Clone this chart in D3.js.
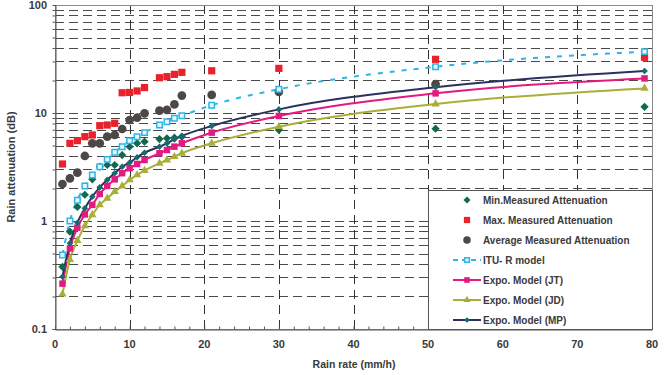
<!DOCTYPE html>
<html>
<head>
<meta charset="utf-8">
<script src="https://cdn.jsdelivr.net/npm/d3@7"></script>
<style>
body { margin: 0; background: #fff; }
text { font-family: "Liberation Sans", Arial, sans-serif; font-weight: bold; fill: #3a3a3a; }
</style>
</head>
<body>
<script>

// rain rates (mm/h) where the points sit
const rain = [1, 2, 3, 4, 5, 6, 7, 8, 9, 10, 11, 12, 14, 15, 16, 17, 21, 30, 51, 79];

// attenuation (dB), null where no mark shows
const minAtt = [0.377, 0.796, 1.35, 1.75, 2.43, 3.18, 3.30, 3.30, 4.08, 4.87, 5.24, 5.42, 5.74, 5.83, 5.91, 6.04, null, 6.96, 7.16, 11.4];
const maxAtt = [3.37, 5.24, 5.55, 6.04, 6.26, 7.63, 7.74, 8.03, 15.4, 15.5, 16.0, 17.2, 21.2, 21.7, 22.8, 23.8, 24.6, 25.9, 31.4, 32.8];
const avgAtt = [2.20, 2.48, 2.80, 4.0, 5.24, 5.24, 6.04, 6.26, 7.11, 8.61, 9.04, 9.93, 10.5, 10.7, 12.0, 14.5, 14.7, 15.7, 18.5, null];
const ituR = [0.484, 1.0, 1.56, 2.11, 2.67, 3.18, 3.72, 4.33, 4.87, 5.54, 6.04, 6.58, 7.74, 8.31, 8.93, 9.44, 11.8, 16.6, 26.8, 37.0];
const expoJT = [0.263, 0.558, 0.867, 1.15, 1.41, 1.78, 2.11, 2.43, 2.77, 3.08, 3.37, 3.67, 4.24, 4.54, 4.88, 5.24, 6.58, 9.38, 15.2, 20.9];
const expoJD = [0.21, 0.44, 0.66, 0.90, 1.14, 1.41, 1.62, 1.87, 2.11, 2.40, 2.67, 2.93, 3.42, 3.67, 3.94, 4.24, 5.24, 7.47, 12.1, 16.9];
const expoMP = [0.305, 0.622, 0.964, 1.31, 1.68, 2.05, 2.40, 2.77, 3.18, 3.47, 3.89, 4.29, 4.87, 5.24, 5.70, 6.12, 7.58, 10.8, 17.3, 24.5];

const xTicks = [0, 10, 20, 30, 40, 50, 60, 70, 80];
const yTicks = [0.1, 1, 10, 100];

const options = {
    width: 669,
    height: 375,
    left: 55,
    right: 652,
    top: 5,
    bottom: 329
}

const x = d3.scaleLinear().domain([0, 80]).range([options.left, options.right]);
const y = d3.scaleLog().domain([0.1, 100]).range([options.bottom, options.top]);

let svg = d3.select("body")
    .append("svg")
    .attr("width", options.width)
    .attr("height", options.height)

// minor log values for the dashed grid
let gridVals = [];
[0.1, 1, 10].forEach(d => {
    for (let k = 1; k <= 9; k++) gridVals.push(d * k);
});
gridVals = gridVals.filter(v => v > 0.1 + 1e-9);

let grid = svg.append("g")

grid.selectAll(".hgrid")
    .data(gridVals)
    .enter()
    .append("line")
    .attr("x1", options.left)
    .attr("x2", options.right)
    .attr("y1", d => Math.round(y(d)) + 0.5)
    .attr("y2", d => Math.round(y(d)) + 0.5)
    .style("stroke", "#4a4a4a")
    .style("stroke-dasharray", "9,5")

grid.selectAll(".vgrid")
    .data(xTicks.slice(1, -1))
    .enter()
    .append("line")
    .attr("x1", d => Math.round(x(d)) + 0.5)
    .attr("x2", d => Math.round(x(d)) + 0.5)
    .attr("y1", options.top)
    .attr("y2", options.bottom)
    .style("stroke", "#333")
    .style("stroke-dasharray", "9,6")

// frame
svg.append("rect")
    .attr("x", options.left + 0.5)
    .attr("y", options.top + 0.5)
    .attr("width", options.right - options.left)
    .attr("height", options.bottom - options.top)
    .style("fill", "none")
    .style("stroke", "#8a8a8a")

// axes
let xAxis = svg.append("g")
    .attr("transform", `translate(0,${options.bottom + 0.5})`)
    .call(d3.axisBottom(x).tickValues(d3.range(0, 81, 2)).tickSize(-3).tickFormat(""))
xAxis.select(".domain").style("stroke", "#555")
xAxis.selectAll(".tick line").style("stroke", "#555")

svg.append("g")
    .selectAll(".xlab")
    .data(xTicks)
    .enter()
    .append("text")
    .attr("x", d => x(d))
    .attr("y", 348)
    .attr("text-anchor", "middle")
    .style("font-size", "11px")
    .text(d => d)

let yAxis = svg.append("g")
    .attr("transform", `translate(${options.left + 0.5},0)`)
    .call(d3.axisLeft(y).tickValues(gridVals.concat([0.1])).tickSize(3).tickFormat(""))
yAxis.select(".domain").style("stroke", "#555")
yAxis.selectAll(".tick line").style("stroke", "#555")

svg.append("g")
    .selectAll(".ylab")
    .data(yTicks)
    .enter()
    .append("text")
    .attr("x", 47)
    .attr("y", d => y(d) + 4)
    .attr("text-anchor", "end")
    .style("font-size", "11px")
    .text(d => d)

svg.append("text")
    .attr("x", 354)
    .attr("y", 368)
    .attr("text-anchor", "middle")
    .style("font-size", "10.5px")
    .text("Rain rate (mm/h)")

svg.append("text")
    .attr("transform", `translate(15,167) rotate(-90)`)
    .attr("text-anchor", "middle")
    .style("font-size", "11px")
    .text("Rain attenuation (dB)")

const pts = arr => rain.map((r, i) => [r, arr[i]]).filter(d => d[1] != null);

const lineGen = d3.line()
    .x(d => x(d[0]))
    .y(d => y(d[1]))
    .curve(d3.curveMonotoneX);

// square turned 45 degrees, as wide as it is tall
const rhomb = {
    draw(ctx, size) {
        const r = Math.sqrt(size / 2);
        ctx.moveTo(0, -r);
        ctx.lineTo(r, 0);
        ctx.lineTo(0, r);
        ctx.lineTo(-r, 0);
        ctx.closePath();
    }
};

let plot = svg.append("g")

const series = [
    { name: "Min.Measured Attenuation", data: minAtt, color: "#13694e", sym: rhomb, size: 34, line: false },
    { name: "Max. Measured Attenuation", data: maxAtt, color: "#e8212b", sym: d3.symbolSquare, size: 52, line: false },
    { name: "Average Measured Attenuation", data: avgAtt, color: "#4d4746", sym: d3.symbolCircle, size: 60, line: false },
    { name: "ITU- R model", data: ituR, color: "#2cb5e6", sym: d3.symbolSquare, size: 30, line: true, dash: "5,7", open: true },
    { name: "Expo. Model (JT)", data: expoJT, color: "#e5197f", sym: d3.symbolSquare, size: 42, line: true },
    { name: "Expo. Model (JD)", data: expoJD, color: "#a9ae38", sym: d3.symbolTriangle, size: 30, line: true },
    { name: "Expo. Model (MP)", data: expoMP, color: "#2c3060", sym: rhomb, size: 22, line: true, mark: "#17696f" }
];

// lines first, then markers on top
series.filter(s => s.line).forEach(s => {
    plot.append("path")
        .attr("d", lineGen(pts(s.data)))
        .style("fill", "none")
        .style("stroke", s.color)
        .style("stroke-width", 2)
        .style("stroke-dasharray", s.dash || null)
})

series.forEach(s => {
    plot.selectAll(null)
        .data(pts(s.data))
        .enter()
        .append("path")
        .attr("transform", d => `translate(${x(d[0])},${y(d[1])})`)
        .attr("d", d3.symbol().type(s.sym).size(s.size))
        .style("fill", s.open ? "#e9f7fd" : (s.mark || s.color))
        .style("stroke", s.open ? s.color : "none")
        .style("stroke-width", 1.5)
})

// legend
let legend = svg.append("g")

legend.append("rect")
    .attr("x", 428.5)
    .attr("y", 190.5)
    .attr("width", options.right - 428)
    .attr("height", options.bottom - 190)
    .style("fill", "#fff")
    .style("stroke", "#555")

let entry = legend.selectAll(".entry")
    .data(series)
    .enter()
    .append("g")
    .attr("transform", (d, i) => `translate(0,${200 + i * 20})`)

entry.filter(d => d.line)
    .append("line")
    .attr("x1", 453)
    .attr("x2", 481)
    .style("stroke", d => d.color)
    .style("stroke-width", 2)
    .style("stroke-dasharray", d => d.dash ? "5,4" : null)

entry.append("path")
    .attr("transform", "translate(467,0)")
    .attr("d", d => d3.symbol().type(d.sym).size(d.size * 0.75)())
    .style("fill", d => d.open ? "#e9f7fd" : (d.mark || d.color))
    .style("stroke", d => d.open ? d.color : "none")
    .style("stroke-width", 1.5)

entry.append("text")
    .attr("x", 483)
    .attr("y", 4)
    .style("font-size", "10px")
    .text(d => d.name)

</script>
</body>
</html>
